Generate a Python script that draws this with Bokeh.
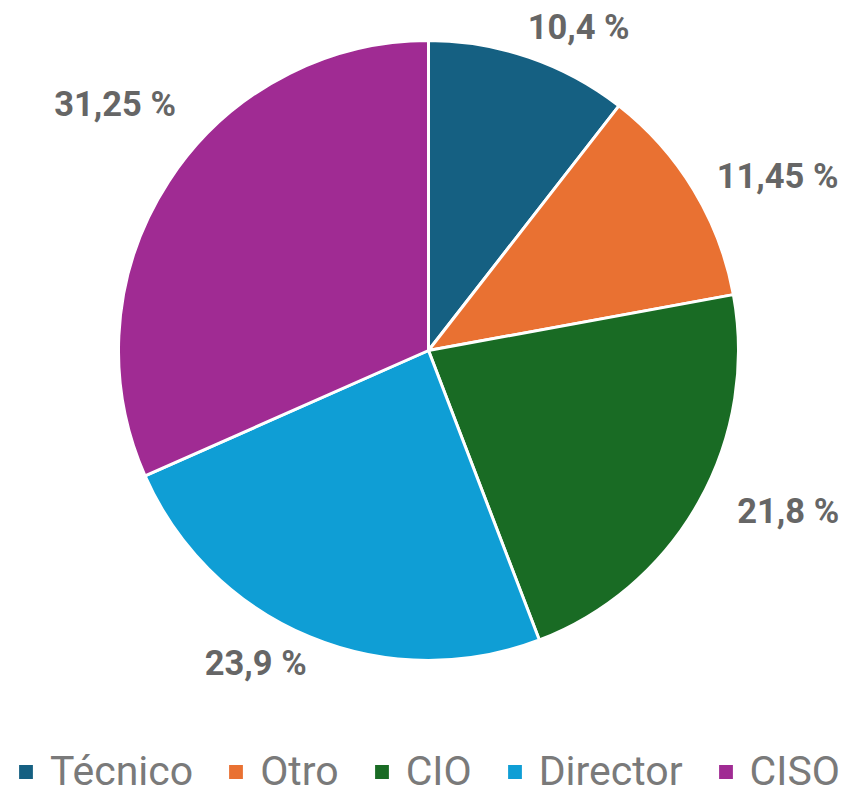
import math
from bokeh.plotting import figure
from bokeh.models import ColumnDataSource, Range1d, Legend, LegendItem
from bokeh.core.properties import value
from bokeh.embed import file_html
from bokeh.resources import INLINE

categories = ["Técnico", "Otro", "CIO", "Director", "CISO"]
values = [10.4, 11.45, 21.8, 23.9, 31.25]
labels = ["10,4 %", "11,45 %", "21,8 %", "23,9 %", "31,25 %"]
colors = ["#156082", "#E97132", "#196B24", "#0F9ED5", "#A02B93"]

# label nudges in pixels (screen x right, screen y down)
nudge_x = [-8, 6, 21, 5, 24]
nudge_y = [-11, -3, -1, 8, -66]

W, H = 849, 795
R = 310
# center of pie in screen coordinates
CX, CY = 428, 350

total = sum(values)
starts, ends, lx, ly, aligns = [], [], [], [], []
cum = 0.0
for i, v in enumerate(values):
    a0 = cum / total * 2 * math.pi
    cum += v
    a1 = cum / total * 2 * math.pi
    starts.append(math.pi / 2 - a0)
    ends.append(math.pi / 2 - a1)
    mid = (a0 + a1) / 2
    dx, dy = math.sin(mid), math.cos(mid)
    lx.append((R + 20) * dx + nudge_x[i])
    ly.append((R + 20) * dy - nudge_y[i])
    aligns.append("left" if dx > 0 else "right")

lsrc = ColumnDataSource(dict(x=lx, y=ly, text=labels, align=aligns))

x0 = -CX
y1 = CY
p = figure(width=W, height=H, output_backend="svg", toolbar_location=None,
           x_range=Range1d(x0, x0 + W), y_range=Range1d(y1 - H, y1),
           min_border=0, outline_line_color=None)
p.axis.visible = False
p.grid.visible = False
p.background_fill_color = "white"

renderers = []
for i in range(len(categories)):
    r = p.wedge(x=0, y=0, radius=R, start_angle=starts[i], end_angle=ends[i],
                direction="clock", fill_color=colors[i], line_color="white", line_width=3)
    renderers.append(r)

p.text(x="x", y="y", text="text", source=lsrc, text_align="align", text_baseline="middle",
       text_font=value("Roboto"), text_font_style="bold", text_font_size="34.5px",
       text_color="#666666")

legend = Legend(items=[LegendItem(label=c, renderers=[renderers[i]]) for i, c in enumerate(categories)],
                orientation="horizontal", location=(15, 0),
                glyph_width=21, glyph_height=21, label_standoff=14, spacing=32,
                padding=0, margin=0, border_line_color=None, background_fill_alpha=0,
                label_text_font="Roboto", label_text_font_size="41px", label_text_color="#7a7a7a")
p.add_layout(legend, "center")

open("out.html", "w").write(file_html(p, INLINE))
